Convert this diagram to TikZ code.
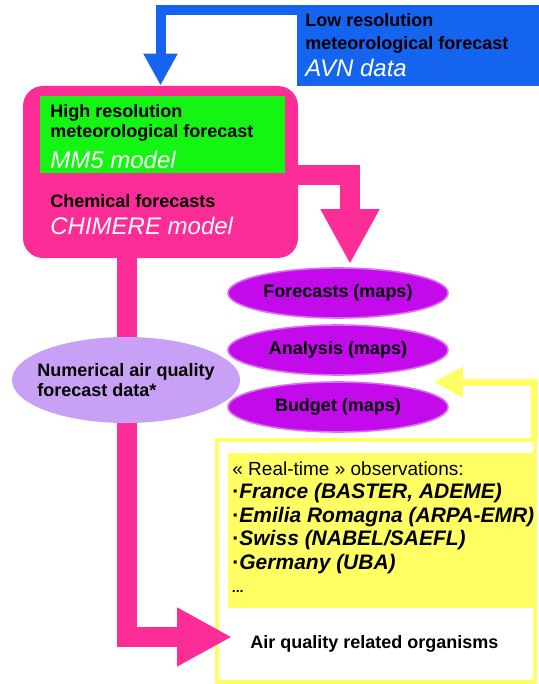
\documentclass[tikz,border=0pt]{standalone}
\usepackage{fontspec}
\setmainfont{Liberation Sans}
\usetikzlibrary{shapes.geometric, arrows.meta}

\definecolor{avnblue}{RGB}{20, 100, 240}
\definecolor{chempink}{RGB}{252, 45, 150}
\definecolor{mmgreen}{RGB}{20, 245, 20}
\definecolor{mapviolet}{RGB}{195, 10, 235}
\definecolor{numlilac}{RGB}{200, 160, 245}
\definecolor{obsyellow}{RGB}{255, 255, 100}

\tikzstyle{lbl} = [inner sep=0pt, align=left, text=black,
                   font=\fontsize{9}{10}\selectfont\bfseries]
\tikzstyle{mapnode} = [ellipse, minimum width=110pt, minimum height=25pt,
                       inner sep=0pt, fill=mapviolet, draw=mapviolet!60!white,
                       line width=0.8pt, font=\fontsize{9}{10}\selectfont\bfseries]
\tikzstyle{pinkarrow} = [chempink, line width=10pt, -{Triangle[width=27.5pt,length=27.5pt]}]
\tikzstyle{bluearrow} = [avnblue, line width=5pt, -{Triangle[width=16pt,length=16pt]}]
\tikzstyle{obsarrow} = [obsyellow, line width=3.5pt, -{Triangle[width=14.5pt,length=14.5pt]}]

\newcommand{\modeltext}[1]{{\fontsize{12}{14}\selectfont\mdseries\itshape\color{white}#1}}
\newcommand{\obsdot}{{\upshape·}}

\begin{document}
\begin{tikzpicture}[x=0.5pt, y=-0.5pt]
        \useasboundingbox (0,0) rectangle (539,684);

        %Low resolution forecast
        \node (avn) [rectangle, fill=avnblue, minimum width=121pt, minimum height=40.5pt] at (418,45.5) {};
        \node (avntxt) [lbl, anchor=north west, font=\fontsize{9}{11.5}\selectfont\bfseries] at (305,13.5)
              {Low resolution\\meteorological forecast\\[2pt]\modeltext{AVN data}};

        %Models
        \node (chem) [rectangle, rounded corners=10pt, fill=chempink, minimum width=137.5pt, minimum height=86pt] at (160.5,172) {};
        \node (hires) [rectangle, fill=mmgreen, minimum width=122.5pt, minimum height=38.5pt] at (162.5,134.5) {};
        \node (hirestxt) [lbl, anchor=north west] at (50,104.5)
              {High resolution\\meteorological forecast\\[3.5pt]\modeltext{MM5 model}};
        \node (chemtxt) [lbl, anchor=north west, font=\fontsize{9}{11.5}\selectfont\bfseries] at (50,194.5)
              {Chemical forecasts\\[2pt]\modeltext{CHIMERE model}};

        %Observations
        \node (obsframe) [rectangle, draw=obsyellow, line width=2pt, minimum width=159pt, minimum height=121pt] at (376,561) {};
        \node (obs) [rectangle, fill=obsyellow, minimum width=153.5pt, minimum height=77.5pt] at (381.5,530.5) {};
        \node (obstxt) [lbl, anchor=north west, font=\fontsize{10.5}{11.75}\selectfont\bfseries\itshape] at (232,461)
              {{\fontsize{9.5}{11}\selectfont\mdseries\upshape « Real-time » observations:}\\\obsdot France (BASTER, ADEME)\\\obsdot Emilia Romagna (ARPA-EMR)\\\obsdot Swiss (NABEL/SAEFL)\\\obsdot Germany (UBA)\\{\fontsize{7}{8}\selectfont ...}};
        \node (orgs) [lbl, anchor=base west] at (250,648) {Air quality related organisms};

        %Maps
        \node (forecasts) [mapnode] at (338,293) {Forecasts (maps)};
        \node (analysis) [mapnode] at (338,350) {Analysis (maps)};
        \node (budget) [mapnode] at (338,407) {Budget (maps)};

        %Arrows
        \draw [bluearrow] ([yshift=-2.5pt]avn.north west) -| (chem.north);
        \draw [pinkarrow] ([yshift=-1.5pt]chem.east) -| ([xshift=6pt, yshift=1.5pt]forecasts.north);
        \draw [pinkarrow] ([xshift=-17pt]chem.south) |- ([xshift=-9pt, yshift=3.2pt]orgs.west);
        \draw [obsarrow] ([xshift=-1.5pt]obsframe.north east) |- ([xshift=-7.5pt, yshift=12.5pt]budget.east);

        %Numerical data
        \node (num) [ellipse, fill=numlilac, minimum width=114pt, minimum height=43pt] at (126,380) {};
        \node (numtxt) [lbl] at (num) {Numerical air quality\\forecast data*};

\end{tikzpicture}
\end{document}
